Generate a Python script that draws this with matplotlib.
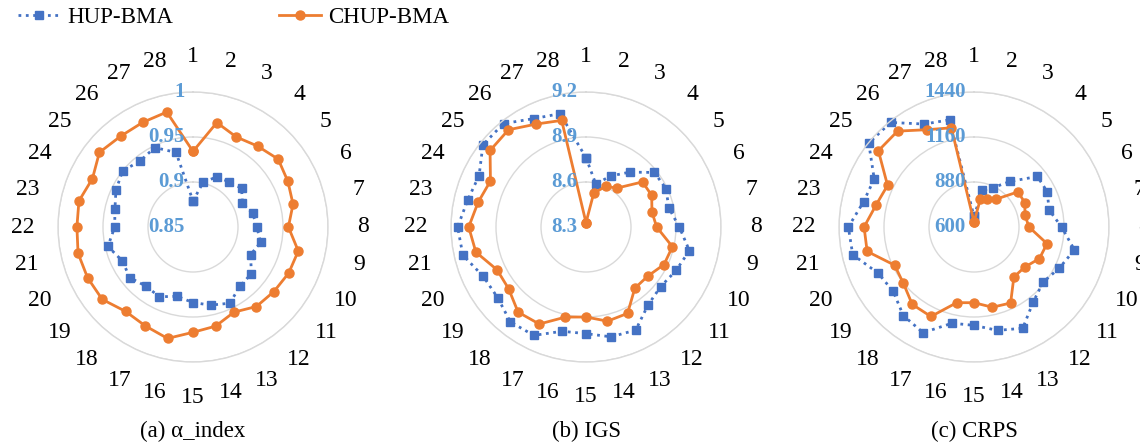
import numpy as np
import matplotlib
matplotlib.use("Agg")
import matplotlib.pyplot as plt

plt.rcParams["font.family"] = ["Liberation Serif", "DejaVu Serif"]

# ── Data ─────────────────────────────────────────────
categories = [str(i) for i in range(1, 29)]

alpha_hup = [0.879, 0.901, 0.912, 0.914, 0.919, 0.911, 0.918, 0.921, 0.927, 0.921,
             0.933, 0.934, 0.944, 0.939, 0.934, 0.929, 0.936, 0.934, 0.940, 0.937,
             0.947, 0.937, 0.939, 0.945, 0.950, 0.944, 0.948, 0.935]
alpha_chup = [0.934, 0.969, 0.961, 0.965, 0.971, 0.967, 0.964, 0.956, 0.970, 0.968,
              0.965, 0.963, 0.955, 0.963, 0.967, 0.977, 0.972, 0.970, 0.979, 0.980,
              0.981, 0.979, 0.980, 0.974, 0.983, 0.979, 0.979, 0.981]

igs_hup = [8.762, 8.594, 8.677, 8.768, 8.883, 8.891, 8.867, 8.922, 9.007, 8.967,
           8.937, 8.964, 9.063, 9.051, 9.011, 9.013, 9.102, 9.109, 9.054, 9.060,
           9.142, 9.156, 9.109, 9.091, 9.179, 9.182, 9.102, 9.075]
igs_chup = [8.329, 8.531, 8.600, 8.632, 8.782, 8.786, 8.751, 8.771, 8.891, 8.877,
            8.826, 8.822, 8.939, 8.944, 8.900, 8.916, 9.018, 9.026, 8.960, 8.958,
            9.053, 9.082, 9.038, 9.007, 9.118, 9.129, 9.062, 9.029]

crps_hup = [666, 834, 872, 963, 1104, 1106, 1079, 1145, 1241, 1189,
            1150, 1193, 1299, 1260, 1212, 1214, 1330, 1305, 1243, 1262,
            1374, 1382, 1305, 1289, 1438, 1432, 1311, 1284]
crps_chup = [631, 776, 793, 822, 951, 950, 926, 942, 1066, 1052,
             1002, 998, 1125, 1112, 1071, 1083, 1218, 1216, 1162, 1148,
             1282, 1284, 1224, 1197, 1361, 1363, 1272, 1233]

alpha_ticks = [0.85, 0.9, 0.95, 1.0]
alpha_ticklabels = ["0.85", "0.9", "0.95", "1"]
igs_ticks = [8.3, 8.6, 8.9, 9.2]
igs_ticklabels = ["8.3", "8.6", "8.9", "9.2"]
crps_ticks = [600, 880, 1160, 1440]
crps_ticklabels = ["600", "880", "1160", "1440"]

captions = ["(a) α_index", "(b) IGS", "(c) CRPS"]

BLUE = "#4472C4"
ORANGE = "#ED7D31"
TICKBLUE = "#5B9BD5"
GRID = "#D9D9D9"

W, H = 1140, 447
fig = plt.figure(figsize=(W / 100, H / 100), dpi=100)

centers_x = [193, 586, 974]
center_y = H - 227
R = 135  # outer ring radius in pixels
LABEL_R = 170

panels = [
    (alpha_hup, alpha_chup, alpha_ticks, alpha_ticklabels),
    (igs_hup, igs_chup, igs_ticks, igs_ticklabels),
    (crps_hup, crps_chup, crps_ticks, crps_ticklabels),
]

n = len(categories)
theta = np.arange(n) * 2 * np.pi / n

for cx, (hup, chup, ticks, ticklabels), cap in zip(centers_x, panels, captions):
    ax = fig.add_axes([(cx - R) / W, (center_y - R) / H, 2 * R / W, 2 * R / H],
                      projection="polar")
    ax.set_theta_zero_location("N")
    ax.set_theta_direction(-1)
    ax.set_ylim(ticks[0], ticks[-1])
    ax.set_yticks(ticks)
    ax.set_yticklabels([])
    ax.set_xticks(theta)
    ax.set_xticklabels([])
    ax.xaxis.grid(False)
    ax.yaxis.grid(True, color=GRID, linewidth=1)
    ax.spines["polar"].set_color(GRID)
    ax.spines["polar"].set_linewidth(1)
    ax.tick_params(length=0)
    ax.patch.set_alpha(0)

    th = np.append(theta, theta[0])
    ax.plot(th, hup + hup[:1], color=BLUE, linestyle=":", linewidth=2.0,
            marker="s", markersize=6.2, label="HUP-BMA", clip_on=False)
    ax.plot(th, chup + chup[:1], color=ORANGE, linestyle="-", linewidth=2.0,
            marker="o", markersize=6.5, label="CHUP-BMA", clip_on=False)

    # category labels
    span = ticks[-1] - ticks[0]
    r_lab = ticks[0] + span * LABEL_R / R
    for t, c in zip(theta, categories):
        ax.text(t, r_lab, c, ha="center", va="center", fontsize=17,
                clip_on=False)

    # ring labels
    for v, lab in zip(ticks, ticklabels):
        ax.annotate(lab, xy=(0, v), xytext=(-6, 0), textcoords="offset points",
                    ha="right", va="center", fontsize=15, fontweight="bold",
                    color=TICKBLUE)

    fig.text(cx / W, 1 - 431 / H, cap, ha="center", va="center", fontsize=16.5)

handles, labels = ax.get_legend_handles_labels()
fig.legend(handles, labels, loc="upper left", bbox_to_anchor=(18 / W, 1 - 7 / H),
           ncol=2, frameon=False, fontsize=16.5, handlelength=1.85,
           columnspacing=4.6, handletextpad=0.3, borderpad=0, borderaxespad=0)

fig.savefig("out.png", dpi=100)
